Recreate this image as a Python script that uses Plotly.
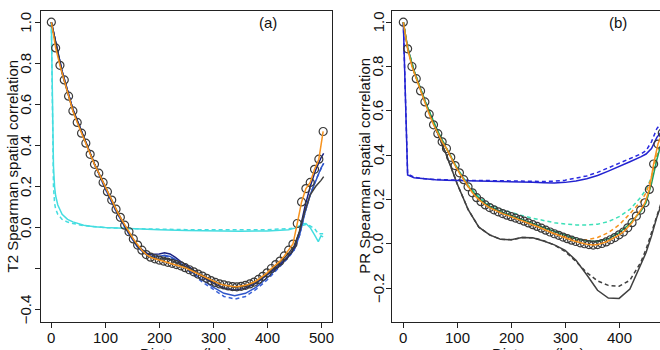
import plotly.graph_objects as go

# ---------------- data ----------------
# observed (circles) distance grid, km
obs_x = [0, 8, 16, 24, 32, 40, 48, 56, 64, 72, 80, 88, 96, 104, 112, 120,
         128, 136, 144, 152, 160, 168, 176, 184, 192, 200, 208, 216, 224, 232, 240, 248,
         256, 264, 272, 280, 288, 296, 304, 312, 320, 328, 336, 344, 352, 360, 368, 376,
         384, 392, 400, 408, 416, 424, 432, 440, 448, 456, 464, 472, 480, 488, 496, 504]

a_obs = [1.000, 0.875, 0.790, 0.719, 0.640, 0.568, 0.512, 0.460, 0.411, 0.357, 0.308, 0.265, 0.220, 0.175, 0.134, 0.090,
         0.050, 0.012, -0.020, -0.055, -0.085, -0.110, -0.131, -0.144, -0.152, -0.158, -0.163, -0.169, -0.174, -0.180, -0.186, -0.195,
         -0.205, -0.215, -0.226, -0.236, -0.247, -0.258, -0.267, -0.274, -0.279, -0.284, -0.287, -0.288, -0.286, -0.281, -0.274, -0.265,
         -0.252, -0.237, -0.220, -0.199, -0.180, -0.163, -0.138, -0.110, -0.080, 0.020, 0.125, 0.190, 0.220, 0.284, 0.333, 0.468]

b_obs = [1.000, 0.880, 0.800, 0.745, 0.690, 0.640, 0.585, 0.537, 0.497, 0.460, 0.430, 0.390, 0.353, 0.320, 0.289, 0.257,
         0.230, 0.208, 0.190, 0.175, 0.163, 0.153, 0.144, 0.136, 0.129, 0.122, 0.116, 0.109, 0.102, 0.094, 0.086, 0.078,
         0.070, 0.061, 0.053, 0.045, 0.038, 0.030, 0.023, 0.016, 0.010, 0.004, 0.000, -0.004, -0.006, -0.004, 0.001, 0.008,
         0.018, 0.028, 0.040, 0.053, 0.072, 0.095, 0.125, 0.152, 0.185, 0.245, 0.360, 0.450, 0.500, 0.520, 0.530, 0.540]

# panel (a) model lines
a_lx = [0, 20, 40, 60, 80, 100, 120, 140, 160, 180, 200, 210, 220, 230, 240, 260,
        280, 300, 320, 340, 360, 380, 400, 420, 440, 450, 460, 470, 480, 490, 500, 505]
a_black = [1.0, 0.75, 0.57, 0.44, 0.31, 0.20, 0.09, -0.01, -0.09, -0.14, -0.155, -0.150, -0.155, -0.170, -0.180, -0.205,
           -0.235, -0.262, -0.280, -0.290, -0.285, -0.262, -0.225, -0.180, -0.125, -0.090, -0.020, 0.080, 0.160, 0.200, 0.230, 0.248]
a_navy = [1.0, 0.76, 0.575, 0.44, 0.31, 0.195, 0.085, -0.01, -0.09, -0.13, -0.128, -0.122, -0.128, -0.145, -0.165, -0.200,
          -0.240, -0.270, -0.295, -0.305, -0.295, -0.270, -0.230, -0.190, -0.140, -0.100, -0.020, 0.100, 0.200, 0.280, 0.340, 0.362]
a_royal = [1.0, 0.76, 0.575, 0.44, 0.31, 0.19, 0.08, -0.015, -0.095, -0.14, -0.140, -0.135, -0.140, -0.155, -0.175, -0.215,
           -0.255, -0.290, -0.320, -0.332, -0.320, -0.290, -0.245, -0.195, -0.140, -0.110, -0.040, 0.070, 0.160, 0.230, 0.290, 0.313]
a_royal_d = [1.0, 0.76, 0.575, 0.44, 0.31, 0.19, 0.08, -0.015, -0.095, -0.14, -0.142, -0.138, -0.145, -0.160, -0.180, -0.222,
             -0.265, -0.302, -0.335, -0.348, -0.335, -0.300, -0.255, -0.200, -0.145, -0.110, -0.040, 0.070, 0.160, 0.230, 0.290, 0.313]

a_cx = [0, 2, 4, 6, 8, 12, 16, 20, 30, 40, 60, 80, 100, 150, 200, 250,
        300, 350, 400, 440, 455, 465, 472, 480, 488, 495, 500, 504]
a_cyan = [1.0, 0.60, 0.30, 0.20, 0.155, 0.11, 0.085, 0.065, 0.040, 0.028, 0.012, 0.004, 0.000, -0.006, -0.010, -0.014,
          -0.017, -0.018, -0.016, -0.010, 0.000, 0.018, 0.020, 0.000, -0.035, -0.068, -0.040, -0.045]
a_cyan_d = [1.0, 0.50, 0.20, 0.12, 0.090, 0.065, 0.050, 0.040, 0.027, 0.020, 0.010, 0.004, 0.000, -0.005, -0.008, -0.010,
            -0.010, -0.010, -0.010, -0.005, 0.000, 0.010, 0.015, 0.008, -0.005, -0.030, -0.030, -0.030]

# panel (b) model lines
b_lx = [0, 8, 20, 40, 60, 80, 100, 120, 140, 160, 180, 200, 220, 240, 260, 280,
        300, 320, 340, 360, 380, 400, 420, 440, 450, 460, 470, 480, 490, 500]
b_black = [1.0, 0.885, 0.78, 0.645, 0.52, 0.40, 0.27, 0.155, 0.075, 0.040, 0.020, 0.018, 0.028, 0.027, 0.012, -0.005,
           -0.030, -0.075, -0.140, -0.210, -0.245, -0.247, -0.205, -0.100, -0.040, 0.035, 0.120, 0.190, 0.250, 0.300]
b_black_d = [1.0, 0.885, 0.78, 0.645, 0.52, 0.40, 0.27, 0.155, 0.075, 0.040, 0.020, 0.018, 0.028, 0.027, 0.014, -0.006,
             -0.035, -0.080, -0.130, -0.168, -0.188, -0.192, -0.165, -0.085, -0.025, 0.050, 0.135, 0.200, 0.260, 0.300]
b_blue = [1.0, 0.310, 0.298, 0.292, 0.289, 0.287, 0.286, 0.285, 0.284, 0.283, 0.283, 0.281, 0.279, 0.277, 0.275, 0.274,
          0.277, 0.283, 0.293, 0.308, 0.328, 0.348, 0.370, 0.392, 0.405, 0.430, 0.480, 0.510, 0.520, 0.530]
b_blue_d = [1.0, 0.315, 0.300, 0.293, 0.290, 0.288, 0.287, 0.286, 0.285, 0.285, 0.285, 0.284, 0.283, 0.282, 0.281, 0.282,
            0.287, 0.295, 0.306, 0.322, 0.342, 0.362, 0.385, 0.405, 0.420, 0.460, 0.520, 0.550, 0.560, 0.560]
b_green = [1.0, 0.885, 0.775, 0.645, 0.528, 0.430, 0.340, 0.260, 0.205, 0.168, 0.145, 0.128, 0.110, 0.092, 0.073, 0.055,
           0.038, 0.022, 0.012, 0.010, 0.022, 0.050, 0.090, 0.145, 0.185, 0.270, 0.380, 0.470, 0.500, 0.520]
b_turq_d = [1.0, 0.890, 0.780, 0.648, 0.530, 0.432, 0.343, 0.265, 0.212, 0.178, 0.156, 0.140, 0.127, 0.115, 0.104, 0.095,
            0.089, 0.085, 0.085, 0.088, 0.100, 0.122, 0.155, 0.210, 0.245, 0.300, 0.390, 0.470, 0.500, 0.520]
b_orange_d = [1.0, 0.880, 0.775, 0.640, 0.525, 0.430, 0.335, 0.257, 0.200, 0.163, 0.140, 0.122, 0.104, 0.086, 0.066, 0.045,
              0.030, 0.018, 0.018, 0.028, 0.050, 0.085, 0.135, 0.190, 0.230, 0.300, 0.400, 0.470, 0.500, 0.520]

a_yticks = [-0.4, -0.2, 0.0, 0.2, 0.4, 0.6, 0.8, 1.0]
a_yticktext = ["\u22120.4", "", "0.0", "0.2", "0.4", "0.6", "0.8", "1.0"]
b_yticks = [-0.2, 0.0, 0.2, 0.4, 0.6, 0.8, 1.0]
b_yticktext = ["\u22120.2", "0.0", "0.2", "0.4", "0.6", "0.8", "1.0"]
a_xticks = [0, 100, 200, 300, 400, 500]
b_xticks = [0, 100, 200, 300, 400]

# ---------------- styles ----------------
ORANGE = "#f7931e"
FONT = "Liberation Sans, Arial, sans-serif"
W, H = 660, 350


def line(x, y, color, dash=None, xa="x", ya="y", width=1.5):
    return go.Scatter(x=x, y=y, mode="lines", xaxis=xa, yaxis=ya,
                      line=dict(color=color, width=width, dash=dash),
                      hoverinfo="skip", showlegend=False)


DASH = "4px,3px"
fig = go.Figure()

# panel a
fig.add_trace(line(a_cx, a_cyan_d, "#44dde0", DASH))
fig.add_trace(line(a_cx, a_cyan, "#44dde0"))
fig.add_trace(line(a_lx, a_royal_d, "#3a62d8", DASH))
fig.add_trace(line(a_lx, a_royal, "#2f55c8"))
fig.add_trace(line(a_lx, a_navy, "#1a2282"))
fig.add_trace(line(a_lx, a_black, "#404040"))
fig.add_trace(go.Scatter(x=obs_x, y=a_obs, mode="markers", xaxis="x", yaxis="y",
                         marker=dict(symbol="circle-open", size=8, color="#3a3a3a", line=dict(width=1.2)),
                         hoverinfo="skip", showlegend=False))
fig.add_trace(line(obs_x, a_obs, ORANGE))

# panel b
fig.add_trace(line(b_lx, b_black_d, "#404040", DASH, "x2", "y2"))
fig.add_trace(line(b_lx, b_black, "#404040", None, "x2", "y2"))
fig.add_trace(line(b_lx, b_blue_d, "#2a2ae0", DASH, "x2", "y2"))
fig.add_trace(line(b_lx, b_blue, "#2323d0", None, "x2", "y2"))
fig.add_trace(line(b_lx, b_turq_d, "#3de0b8", DASH, "x2", "y2"))
fig.add_trace(line(b_lx, b_orange_d, ORANGE, DASH, "x2", "y2"))
fig.add_trace(line(b_lx, b_green, "#1fa060", None, "x2", "y2"))
fig.add_trace(go.Scatter(x=obs_x, y=b_obs, mode="markers", xaxis="x2", yaxis="y2",
                         marker=dict(symbol="circle-open", size=8, color="#3a3a3a", line=dict(width=1.2)),
                         hoverinfo="skip", showlegend=False))
fig.add_trace(line(obs_x, b_obs, ORANGE, None, "x2", "y2"))


def px_x(p):
    return p / W


def px_y(p):
    return (H - p) / H


axis_common = dict(showgrid=False, zeroline=False, showline=True, linecolor="#222", linewidth=1,
                   ticks="outside", ticklen=5, tickwidth=1, tickcolor="#222", showticklabels=False)

fig.update_layout(
    width=W, height=H, margin=dict(l=0, r=0, t=0, b=0),
    paper_bgcolor="white", plot_bgcolor="white",
    xaxis=dict(domain=[px_x(40.7), px_x(332)], range=[-19.7, 520.4], anchor="y",
               tickvals=a_xticks, mirror=True, **axis_common),
    yaxis=dict(domain=[px_y(321.7), px_y(10.7)], range=[-0.458, 1.056], anchor="x",
               tickvals=a_yticks, mirror=True, **axis_common),
    xaxis2=dict(domain=[px_x(392.3), 1.0], range=[-20.4, 475.8], anchor="y2",
                tickvals=b_xticks, mirror=True, **axis_common),
    yaxis2=dict(domain=[px_y(321.7), px_y(10.7)], range=[-0.352, 1.052], anchor="x2",
                tickvals=b_yticks, mirror=False, **axis_common),
)

ann_font = dict(family=FONT, size=15, color="#111")
annotations = [
    dict(text="(a)", x=px_x(267.7), y=px_y(22.3), xref="paper", yref="paper",
         showarrow=False, font=ann_font, xanchor="center", yanchor="middle"),
    dict(text="(b)", x=px_x(618), y=px_y(22.3), xref="paper", yref="paper",
         showarrow=False, font=ann_font, xanchor="center", yanchor="middle"),
    dict(text="T2 Spearman spatial correlation", x=px_x(11.5), y=px_y(166), xref="paper", yref="paper",
         showarrow=False, font=ann_font, textangle=-90, xanchor="center", yanchor="middle"),
    dict(text="PR Spearman spatial correlation", x=px_x(363.8), y=px_y(166), xref="paper", yref="paper",
         showarrow=False, font=ann_font, textangle=-90, xanchor="center", yanchor="middle"),
    dict(text="Distance (km)", x=px_x(186), y=px_y(353), xref="paper", yref="paper",
         showarrow=False, font=ann_font, xanchor="center", yanchor="middle"),
    dict(text="Distance (km)", x=px_x(538), y=px_y(353), xref="paper", yref="paper",
         showarrow=False, font=ann_font, xanchor="center", yanchor="middle"),
]
# tick labels placed on the axes' own value scales
for v, t in zip(a_yticks, a_yticktext):
    if t:
        annotations.append(dict(text=t, x=px_x(25.5), y=v, xref="paper", yref="y",
                                showarrow=False, font=ann_font, textangle=-90,
                                xanchor="center", yanchor="middle"))
for v, t in zip(b_yticks, b_yticktext):
    annotations.append(dict(text=t, x=px_x(378), y=v, xref="paper", yref="y2",
                            showarrow=False, font=ann_font, textangle=-90,
                            xanchor="center", yanchor="middle"))
for v in a_xticks:
    annotations.append(dict(text=str(v), x=v, y=px_y(337.8), xref="x", yref="paper",
                            showarrow=False, font=ann_font, xanchor="center", yanchor="middle"))
for v in b_xticks:
    annotations.append(dict(text=str(v), x=v, y=px_y(337.8), xref="x2", yref="paper",
                            showarrow=False, font=ann_font, xanchor="center", yanchor="middle"))
fig.update_layout(annotations=annotations)

fig.write_html("out.html")
